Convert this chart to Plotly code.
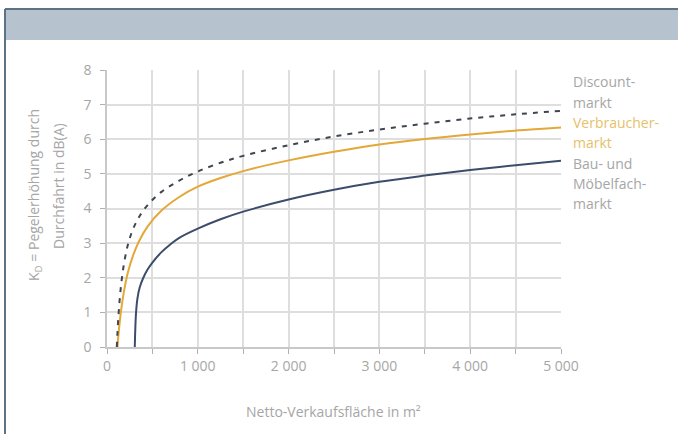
import plotly.graph_objects as go

# ---- data (K_D in dB(A) against net sales area in m²) ----
discount_x = [108, 115, 125, 140, 160, 190, 230, 280, 350, 450, 600, 800, 1000, 1250, 1500, 2000, 2500, 3000, 3500, 4000, 4500, 5000]
discount_y = [0, 0.39, 0.85, 1.38, 1.90, 2.45, 2.95, 3.36, 3.74, 4.11, 4.48, 4.81, 5.07, 5.32, 5.52, 5.83, 6.08, 6.28, 6.45, 6.6, 6.72, 6.82]

verbraucher_x = [115, 125, 140, 160, 190, 230, 280, 350, 450, 600, 800, 1000, 1250, 1500, 2000, 2500, 3000, 3500, 4000, 4500, 5000]
verbraucher_y = [0, 0.32, 0.72, 1.15, 1.65, 2.15, 2.59, 3.04, 3.49, 3.94, 4.34, 4.63, 4.88, 5.08, 5.39, 5.64, 5.85, 6.01, 6.14, 6.25, 6.34]

moebel_x = [306, 312, 320, 335, 360, 400, 450, 500, 600, 700, 800, 1000, 1250, 1500, 2000, 2500, 3000, 3500, 4000, 4500, 5000]
moebel_y = [0, 0.55, 1.0, 1.4, 1.72, 2.0, 2.25, 2.44, 2.74, 2.97, 3.16, 3.42, 3.69, 3.91, 4.26, 4.54, 4.77, 4.95, 5.11, 5.25, 5.38]

x_tickvals = [0, 1000, 2000, 3000, 4000, 5000]
x_ticktext = ["0", "1 000", "2 000", "3 000", "4 000", "5 000"]
x_minor_step = 500
y_tickvals = [0, 1, 2, 3, 4, 5, 6, 7, 8]

legend_discount = ["Discount-", "markt"]
legend_verbraucher = ["Verbraucher-", "markt"]
legend_moebel = ["Bau- und", "Möbelfach-", "markt"]

x_title = "Netto-Verkaufsfläche in m²"
y_title_1 = "K<sub>D</sub> = Pegelerhöhung durch"
y_title_2 = "Durchfahrt in dB(A)"

# ---- styling ----
W, H = 678, 434
ML, MR, MT, MB = 107, 117, 70, 87
PW, PH = W - ML - MR, H - MT - MB
GREY = "#a6a6a6"
FONT = "Open Sans"


def px(x):
    return (x - ML) / PW


def py(y):
    return (H - MB - y) / PH


fig = go.Figure()
fig.add_trace(go.Scatter(x=moebel_x, y=moebel_y, mode="lines",
                         line=dict(color="#3c4d6b", width=2, shape="spline", smoothing=1),
                         hoverinfo="skip", showlegend=False))
fig.add_trace(go.Scatter(x=verbraucher_x, y=verbraucher_y, mode="lines",
                         line=dict(color="#e3a838", width=2, shape="spline", smoothing=1),
                         hoverinfo="skip", showlegend=False))
fig.add_trace(go.Scatter(x=discount_x, y=discount_y, mode="lines",
                         line=dict(color="#3f4650", width=2, dash="5px,6px", shape="spline", smoothing=1),
                         hoverinfo="skip", showlegend=False))

shapes = [
    dict(type="rect", xref="paper", yref="paper", x0=px(5), x1=px(700), y0=py(40), y1=py(9),
         fillcolor="#b6c3ce", line=dict(width=0), layer="below"),
    dict(type="line", xref="paper", yref="paper", x0=px(5), x1=px(700), y0=py(9), y1=py(9),
         line=dict(color="#5c7386", width=2), layer="below"),
    dict(type="line", xref="paper", yref="paper", x0=px(5), x1=px(5), y0=py(9), y1=py(450),
         line=dict(color="#5c7386", width=2), layer="below"),
]

annotations = []
for i, t in enumerate(legend_discount):
    annotations.append(dict(text=t, x=px(571), y=py(82 + 20 * i), xref="paper", yref="paper",
                            xanchor="left", yanchor="middle", showarrow=False,
                            font=dict(family=FONT, size=14, color=GREY)))
for i, t in enumerate(legend_verbraucher):
    annotations.append(dict(text=t, x=px(571), y=py(122 + 20 * i), xref="paper", yref="paper",
                            xanchor="left", yanchor="middle", showarrow=False,
                            font=dict(family=FONT, size=14, color="#e6bf6a")))
for i, t in enumerate(legend_moebel):
    annotations.append(dict(text=t, x=px(571), y=py(163 + 20 * i), xref="paper", yref="paper",
                            xanchor="left", yanchor="middle", showarrow=False,
                            font=dict(family=FONT, size=14, color=GREY)))

annotations.append(dict(text=x_title, x=px(333), y=py(411), xref="paper", yref="paper",
                        xanchor="center", yanchor="middle", showarrow=False,
                        font=dict(family=FONT, size=14, color=GREY)))
annotations.append(dict(text=y_title_1, x=px(34), y=py(195), xref="paper", yref="paper",
                        xanchor="center", yanchor="middle", showarrow=False, textangle=-90,
                        font=dict(family=FONT, size=14, color=GREY)))
annotations.append(dict(text=y_title_2, x=px(58), y=py(186), xref="paper", yref="paper",
                        xanchor="center", yanchor="middle", showarrow=False, textangle=-90,
                        font=dict(family=FONT, size=14, color=GREY)))

fig.update_layout(
    width=W, height=H,
    margin=dict(l=ML, r=MR, t=MT, b=MB, pad=0),
    paper_bgcolor="white", plot_bgcolor="white",
    shapes=shapes, annotations=annotations,
    font=dict(family=FONT, color=GREY, size=14),
    xaxis=dict(range=[0, 5000], tickvals=x_tickvals, ticktext=x_ticktext,
               showgrid=True, gridcolor="#dedede", gridwidth=1.5,
               showline=True, linecolor="#c8c8c8", linewidth=1.5,
               ticks="outside", ticklen=5, tickcolor="#b0b0b0", tickwidth=1,
               minor=dict(dtick=x_minor_step, tick0=0, ticks="outside", ticklen=5,
                          tickcolor="#b0b0b0", tickwidth=1,
                          showgrid=True, gridcolor="#dedede", gridwidth=1.5),
               tickfont=dict(family=FONT, size=14, color=GREY), zeroline=False,
               fixedrange=True),
    yaxis=dict(range=[0, 8], tickvals=y_tickvals,
               showgrid=True, gridcolor="#dedede", gridwidth=1.5,
               showline=True, linecolor="#c8c8c8", linewidth=1.5,
               ticks="outside", ticklen=5, tickcolor="#b0b0b0", tickwidth=1,
               tickfont=dict(family=FONT, size=14, color=GREY), zeroline=False,
               ticklabelstandoff=6, fixedrange=True),
)

fig.write_html("out.html", config={"displayModeBar": False},
               post_script="document.body.style.margin='0';")
